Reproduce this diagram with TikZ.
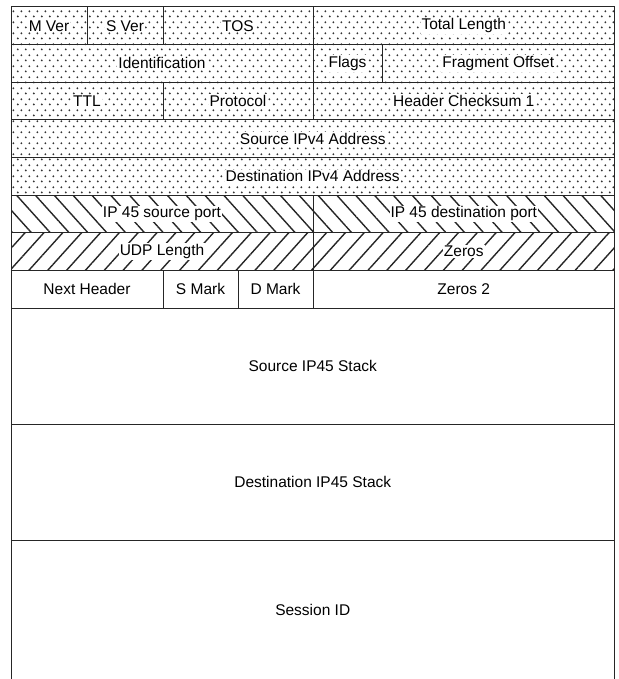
\documentclass[tikz,border=0pt]{standalone}
\usepackage{xcolor}
\usepackage{fontspec}
\setmainfont{Liberation Sans}
\usepackage{tikz}
\usetikzlibrary{patterns.meta}

% staggered dot fill for the IPv4 part
\pgfdeclarepattern{
  name=hdrdots,
  type=uncolored,
  bottom left={\pgfpointorigin},
  top right={\pgfpoint{8pt}{11pt}},
  tile size={\pgfpoint{8pt}{11pt}},
  code={
    \pgfpathcircle{\pgfpoint{2pt}{2.75pt}}{1.15pt}
    \pgfpathcircle{\pgfpoint{6pt}{8.25pt}}{1.15pt}
    \pgfusepath{fill}
  }
}

\newcommand{\wbox}[1]{{\setlength{\fboxsep}{1pt}\colorbox{white}{#1}}}

\begin{document}
\begin{tikzpicture}[
    x=1pt, y=-1pt,
    fld/.style={draw=black!85, line width=1pt, minimum height=37.6pt, inner sep=0pt, outer sep=0pt, font=\fontsize{15.5}{18}\selectfont},
    dotf/.style={fld, pattern={hdrdots}, pattern color=black!80},
    nwf/.style={fld, pattern={Lines[angle=-48, distance=14pt, line width=1.4pt]}, pattern color=black!85},
    nef/.style={fld, pattern={Lines[angle=48, distance=14pt, line width=1.4pt]}, pattern color=black!85},
    bigf/.style={fld, minimum height=116pt, minimum width=603.5pt}
]
\useasboundingbox (0,0) rectangle (618,679);

% IPv4 header
\node[dotf, minimum width=76pt] (mver) at (49, 25.8) {\wbox{M Ver}};
\node[dotf, minimum width=76pt] (sver) at (125, 25.8) {\wbox{S Ver}};
\node[dotf, minimum width=150pt] (tos) at (238, 25.8) {\wbox{TOS}};
\node[dotf, minimum width=301.5pt] (totlen) at (463.75, 25.8) {\wbox{Total Length}};

\node[dotf, minimum width=302pt] (ident) at (162, 63.4) {\wbox{Identification}};
\node[dotf, minimum width=69pt] (flags) at (347.5, 63.4) {\wbox{Flags}};
\node[dotf, minimum width=232.5pt] (fragoff) at (498.25, 63.4) {\wbox{Fragment Offset}};

\node[dotf, minimum width=152pt] (ttl) at (87, 101.1) {\wbox{TTL}};
\node[dotf, minimum width=150pt] (proto) at (238, 101.1) {\wbox{Protocol}};
\node[dotf, minimum width=301.5pt] (hcsum) at (463.75, 101.1) {\wbox{Header Checksum 1}};

\node[dotf, minimum width=603.5pt] (srcip) at (312.75, 138.7) {\wbox{Source IPv4 Address}};
\node[dotf, minimum width=603.5pt] (dstip) at (312.75, 176.3) {\wbox{Destination IPv4 Address}};

% UDP part
\node[nwf, minimum width=302pt] (sport) at (162, 213.9) {\wbox{IP 45 source port}};
\node[nwf, minimum width=301.5pt] (dport) at (463.75, 213.9) {\wbox{IP 45 destination port}};
\node[nef, minimum width=302pt] (udplen) at (162, 251.6) {\wbox{UDP Length}};
\node[nef, minimum width=301.5pt] (zeros) at (463.75, 251.6) {\wbox{Zeros}};

% IP45 part
\node[fld, minimum width=152pt] (nexthdr) at (87, 289.2) {Next Header};
\node[fld, minimum width=75pt] (smark) at (200.5, 289.2) {S Mark};
\node[fld, minimum width=75pt] (dmark) at (275.5, 289.2) {D Mark};
\node[fld, minimum width=301.5pt] (zeros2) at (463.75, 289.2) {Zeros 2};

\node[bigf] (srcstack) at (312.75, 366) {Source IP45 Stack};
\node[bigf] (dststack) at (312.75, 482) {Destination IP45 Stack};
\node[bigf, draw=none, minimum height=139pt] (session) at (312.75, 609.5) {Session ID};
\draw[black!85, line width=1pt] (session.south west) -- (session.north west) -- (session.north east) -- (session.south east);
\end{tikzpicture}
\end{document}
